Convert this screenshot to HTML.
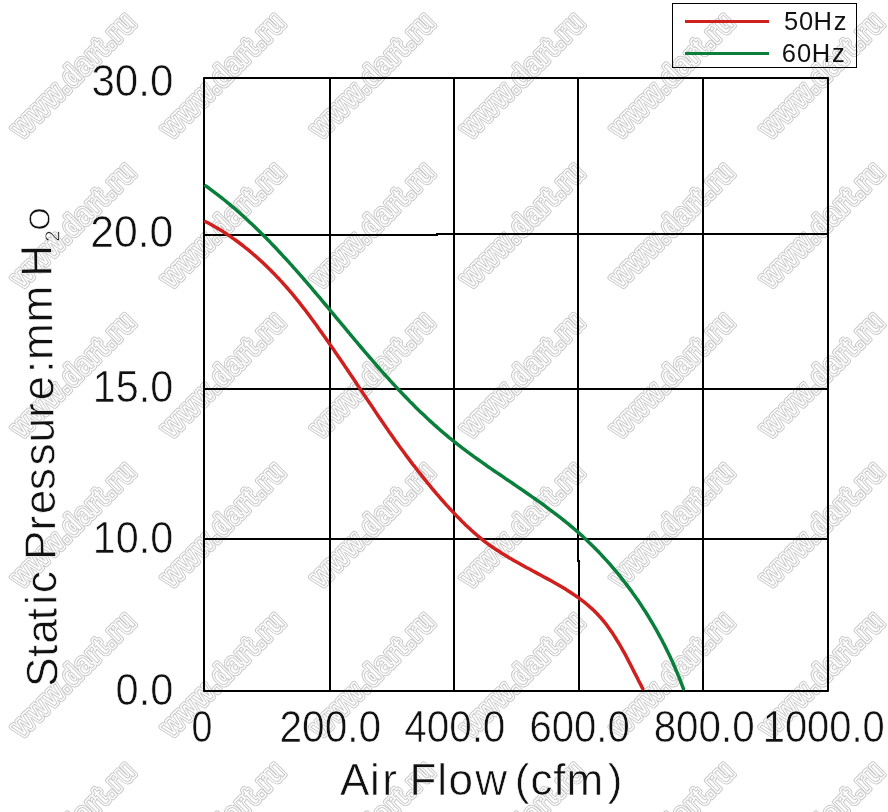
<!DOCTYPE html>
<html><head><meta charset="utf-8"><title>Static Pressure vs Air Flow</title><style>
html,body{margin:0;padding:0;background:#fff;}
body{width:888px;height:812px;overflow:hidden;}
svg{display:block;}
.wt{font-family:"Liberation Sans",Arial,sans-serif;font-weight:bold;font-size:28.5px;letter-spacing:2.2px;text-anchor:middle;dominant-baseline:central;}
.w1{fill:none;stroke:#c8c8c8;stroke-width:6px;stroke-linejoin:round;}
.w2{fill:#fff;stroke:#fff;stroke-width:4px;stroke-linejoin:round;}
.w3{fill:#fff;stroke:#cdcdcd;stroke-width:1.1px;}
.t{font-family:"Liberation Sans",Arial,sans-serif;font-size:44px;fill:#111;stroke:#fff;stroke-width:0.6px;}
.n{font-family:"Liberation Sans",Arial,sans-serif;font-size:43.5px;fill:#111;stroke:#fff;stroke-width:0.6px;}
.lg{font-family:"Liberation Sans",Arial,sans-serif;font-size:25.5px;fill:#111;}
</style></head><body>
<svg width="888" height="812" viewBox="0 0 888 812">

<rect width="888" height="812" fill="#fff"/>
<g>
<g transform="translate(72.5,74.8) rotate(-45) scale(0.87,1)"><text class="wt w1" x="1.1">www.dart.ru</text><text class="wt w2" x="1.1">www.dart.ru</text><text class="wt w3" x="1.1">www.dart.ru</text></g>
<g transform="translate(222.2,74.8) rotate(-45) scale(0.87,1)"><text class="wt w1" x="1.1">www.dart.ru</text><text class="wt w2" x="1.1">www.dart.ru</text><text class="wt w3" x="1.1">www.dart.ru</text></g>
<g transform="translate(371.9,74.8) rotate(-45) scale(0.87,1)"><text class="wt w1" x="1.1">www.dart.ru</text><text class="wt w2" x="1.1">www.dart.ru</text><text class="wt w3" x="1.1">www.dart.ru</text></g>
<g transform="translate(521.6,74.8) rotate(-45) scale(0.87,1)"><text class="wt w1" x="1.1">www.dart.ru</text><text class="wt w2" x="1.1">www.dart.ru</text><text class="wt w3" x="1.1">www.dart.ru</text></g>
<g transform="translate(671.3,74.8) rotate(-45) scale(0.87,1)"><text class="wt w1" x="1.1">www.dart.ru</text><text class="wt w2" x="1.1">www.dart.ru</text><text class="wt w3" x="1.1">www.dart.ru</text></g>
<g transform="translate(821.0,74.8) rotate(-45) scale(0.87,1)"><text class="wt w1" x="1.1">www.dart.ru</text><text class="wt w2" x="1.1">www.dart.ru</text><text class="wt w3" x="1.1">www.dart.ru</text></g>
<g transform="translate(72.5,224.6) rotate(-45) scale(0.87,1)"><text class="wt w1" x="1.1">www.dart.ru</text><text class="wt w2" x="1.1">www.dart.ru</text><text class="wt w3" x="1.1">www.dart.ru</text></g>
<g transform="translate(222.2,224.6) rotate(-45) scale(0.87,1)"><text class="wt w1" x="1.1">www.dart.ru</text><text class="wt w2" x="1.1">www.dart.ru</text><text class="wt w3" x="1.1">www.dart.ru</text></g>
<g transform="translate(371.9,224.6) rotate(-45) scale(0.87,1)"><text class="wt w1" x="1.1">www.dart.ru</text><text class="wt w2" x="1.1">www.dart.ru</text><text class="wt w3" x="1.1">www.dart.ru</text></g>
<g transform="translate(521.6,224.6) rotate(-45) scale(0.87,1)"><text class="wt w1" x="1.1">www.dart.ru</text><text class="wt w2" x="1.1">www.dart.ru</text><text class="wt w3" x="1.1">www.dart.ru</text></g>
<g transform="translate(671.3,224.6) rotate(-45) scale(0.87,1)"><text class="wt w1" x="1.1">www.dart.ru</text><text class="wt w2" x="1.1">www.dart.ru</text><text class="wt w3" x="1.1">www.dart.ru</text></g>
<g transform="translate(821.0,224.6) rotate(-45) scale(0.87,1)"><text class="wt w1" x="1.1">www.dart.ru</text><text class="wt w2" x="1.1">www.dart.ru</text><text class="wt w3" x="1.1">www.dart.ru</text></g>
<g transform="translate(72.5,374.4) rotate(-45) scale(0.87,1)"><text class="wt w1" x="1.1">www.dart.ru</text><text class="wt w2" x="1.1">www.dart.ru</text><text class="wt w3" x="1.1">www.dart.ru</text></g>
<g transform="translate(222.2,374.4) rotate(-45) scale(0.87,1)"><text class="wt w1" x="1.1">www.dart.ru</text><text class="wt w2" x="1.1">www.dart.ru</text><text class="wt w3" x="1.1">www.dart.ru</text></g>
<g transform="translate(371.9,374.4) rotate(-45) scale(0.87,1)"><text class="wt w1" x="1.1">www.dart.ru</text><text class="wt w2" x="1.1">www.dart.ru</text><text class="wt w3" x="1.1">www.dart.ru</text></g>
<g transform="translate(521.6,374.4) rotate(-45) scale(0.87,1)"><text class="wt w1" x="1.1">www.dart.ru</text><text class="wt w2" x="1.1">www.dart.ru</text><text class="wt w3" x="1.1">www.dart.ru</text></g>
<g transform="translate(671.3,374.4) rotate(-45) scale(0.87,1)"><text class="wt w1" x="1.1">www.dart.ru</text><text class="wt w2" x="1.1">www.dart.ru</text><text class="wt w3" x="1.1">www.dart.ru</text></g>
<g transform="translate(821.0,374.4) rotate(-45) scale(0.87,1)"><text class="wt w1" x="1.1">www.dart.ru</text><text class="wt w2" x="1.1">www.dart.ru</text><text class="wt w3" x="1.1">www.dart.ru</text></g>
<g transform="translate(72.5,524.2) rotate(-45) scale(0.87,1)"><text class="wt w1" x="1.1">www.dart.ru</text><text class="wt w2" x="1.1">www.dart.ru</text><text class="wt w3" x="1.1">www.dart.ru</text></g>
<g transform="translate(222.2,524.2) rotate(-45) scale(0.87,1)"><text class="wt w1" x="1.1">www.dart.ru</text><text class="wt w2" x="1.1">www.dart.ru</text><text class="wt w3" x="1.1">www.dart.ru</text></g>
<g transform="translate(371.9,524.2) rotate(-45) scale(0.87,1)"><text class="wt w1" x="1.1">www.dart.ru</text><text class="wt w2" x="1.1">www.dart.ru</text><text class="wt w3" x="1.1">www.dart.ru</text></g>
<g transform="translate(521.6,524.2) rotate(-45) scale(0.87,1)"><text class="wt w1" x="1.1">www.dart.ru</text><text class="wt w2" x="1.1">www.dart.ru</text><text class="wt w3" x="1.1">www.dart.ru</text></g>
<g transform="translate(671.3,524.2) rotate(-45) scale(0.87,1)"><text class="wt w1" x="1.1">www.dart.ru</text><text class="wt w2" x="1.1">www.dart.ru</text><text class="wt w3" x="1.1">www.dart.ru</text></g>
<g transform="translate(821.0,524.2) rotate(-45) scale(0.87,1)"><text class="wt w1" x="1.1">www.dart.ru</text><text class="wt w2" x="1.1">www.dart.ru</text><text class="wt w3" x="1.1">www.dart.ru</text></g>
<g transform="translate(72.5,674.0) rotate(-45) scale(0.87,1)"><text class="wt w1" x="1.1">www.dart.ru</text><text class="wt w2" x="1.1">www.dart.ru</text><text class="wt w3" x="1.1">www.dart.ru</text></g>
<g transform="translate(222.2,674.0) rotate(-45) scale(0.87,1)"><text class="wt w1" x="1.1">www.dart.ru</text><text class="wt w2" x="1.1">www.dart.ru</text><text class="wt w3" x="1.1">www.dart.ru</text></g>
<g transform="translate(371.9,674.0) rotate(-45) scale(0.87,1)"><text class="wt w1" x="1.1">www.dart.ru</text><text class="wt w2" x="1.1">www.dart.ru</text><text class="wt w3" x="1.1">www.dart.ru</text></g>
<g transform="translate(521.6,674.0) rotate(-45) scale(0.87,1)"><text class="wt w1" x="1.1">www.dart.ru</text><text class="wt w2" x="1.1">www.dart.ru</text><text class="wt w3" x="1.1">www.dart.ru</text></g>
<g transform="translate(671.3,674.0) rotate(-45) scale(0.87,1)"><text class="wt w1" x="1.1">www.dart.ru</text><text class="wt w2" x="1.1">www.dart.ru</text><text class="wt w3" x="1.1">www.dart.ru</text></g>
<g transform="translate(821.0,674.0) rotate(-45) scale(0.87,1)"><text class="wt w1" x="1.1">www.dart.ru</text><text class="wt w2" x="1.1">www.dart.ru</text><text class="wt w3" x="1.1">www.dart.ru</text></g>
<g transform="translate(72.5,823.8) rotate(-45) scale(0.87,1)"><text class="wt w1" x="1.1">www.dart.ru</text><text class="wt w2" x="1.1">www.dart.ru</text><text class="wt w3" x="1.1">www.dart.ru</text></g>
<g transform="translate(222.2,823.8) rotate(-45) scale(0.87,1)"><text class="wt w1" x="1.1">www.dart.ru</text><text class="wt w2" x="1.1">www.dart.ru</text><text class="wt w3" x="1.1">www.dart.ru</text></g>
<g transform="translate(371.9,823.8) rotate(-45) scale(0.87,1)"><text class="wt w1" x="1.1">www.dart.ru</text><text class="wt w2" x="1.1">www.dart.ru</text><text class="wt w3" x="1.1">www.dart.ru</text></g>
<g transform="translate(521.6,823.8) rotate(-45) scale(0.87,1)"><text class="wt w1" x="1.1">www.dart.ru</text><text class="wt w2" x="1.1">www.dart.ru</text><text class="wt w3" x="1.1">www.dart.ru</text></g>
<g transform="translate(671.3,823.8) rotate(-45) scale(0.87,1)"><text class="wt w1" x="1.1">www.dart.ru</text><text class="wt w2" x="1.1">www.dart.ru</text><text class="wt w3" x="1.1">www.dart.ru</text></g>
<g transform="translate(821.0,823.8) rotate(-45) scale(0.87,1)"><text class="wt w1" x="1.1">www.dart.ru</text><text class="wt w2" x="1.1">www.dart.ru</text><text class="wt w3" x="1.1">www.dart.ru</text></g>
</g>
<g stroke="#000" stroke-width="2" fill="none" stroke-linejoin="round">
<path d="M204,78 H828 V691 H204 Z"/>
<path d="M204,235 H437 V234 H828" stroke-linejoin="miter"/>
<line x1="204" y1="389" x2="828" y2="389"/>
<line x1="204" y1="539" x2="828" y2="539"/>
<line x1="330" y1="78" x2="330" y2="691"/>
<line x1="454" y1="78" x2="454" y2="691"/>
<path d="M578,78 V561 H579 V691" stroke-linejoin="miter"/>
<line x1="703" y1="78" x2="703" y2="691"/>
</g>
<path d="M205.6,221.7 207.8,222.8 210.0,224.0 212.2,225.2 214.4,226.5 216.6,227.7 218.7,229.0 220.9,230.3 223.0,231.6 225.1,233.0 227.2,234.4 229.2,235.7 231.3,237.2 233.3,238.6 235.4,240.0 237.4,241.5 239.4,243.0 241.4,244.5 243.4,246.0 245.3,247.6 247.3,249.2 249.2,250.7 251.1,252.3 253.0,254.0 254.9,255.6 256.8,257.2 258.7,258.9 260.5,260.6 262.4,262.3 264.2,264.0 266.0,265.7 267.8,267.5 269.6,269.2 271.4,271.0 273.1,272.8 274.9,274.6 276.6,276.4 278.4,278.2 280.1,280.1 281.8,281.9 283.4,283.8 285.1,285.6 286.8,287.5 288.4,289.4 290.1,291.3 291.7,293.2 293.3,295.1 294.9,297.1 296.4,299.0 298.0,300.9 299.6,302.9 301.1,304.9 302.6,306.8 304.2,308.8 305.7,310.8 307.2,312.8 308.7,314.8 310.2,316.8 311.6,318.8 313.1,320.8 314.6,322.8 316.1,324.8 317.5,326.8 319.0,328.9 320.4,330.9 321.9,332.9 323.3,335.0 324.8,337.0 326.2,339.1 327.7,341.1 329.1,343.2 330.5,345.2 331.9,347.3 333.4,349.3 334.8,351.4 336.2,353.4 337.6,355.5 339.0,357.6 340.4,359.6 341.9,361.7 343.3,363.8 344.7,365.9 346.1,367.9 347.5,370.0 348.9,372.1 350.3,374.2 351.7,376.2 353.1,378.3 354.5,380.4 355.9,382.5 357.3,384.6 358.6,386.6 360.0,388.7 361.4,390.8 362.8,392.9 364.2,395.0 365.6,397.0 367.0,399.1 368.4,401.2 369.8,403.3 371.2,405.3 372.6,407.4 374.0,409.5 375.4,411.6 376.7,413.6 378.1,415.7 379.5,417.8 380.9,419.8 382.4,421.9 383.8,424.0 385.2,426.0 386.6,428.1 388.0,430.1 389.4,432.2 390.9,434.2 392.3,436.3 393.7,438.3 395.2,440.4 396.6,442.4 398.1,444.4 399.5,446.5 401.0,448.5 402.5,450.5 404.0,452.5 405.5,454.6 407.0,456.6 408.5,458.6 410.0,460.6 411.5,462.6 413.0,464.6 414.6,466.5 416.1,468.5 417.6,470.5 419.2,472.5 420.8,474.4 422.3,476.4 423.9,478.4 425.5,480.3 427.0,482.3 428.6,484.2 430.2,486.1 431.8,488.1 433.4,490.0 435.0,491.9 436.6,493.8 438.3,495.7 439.9,497.6 441.5,499.5 443.2,501.3 444.8,503.2 446.5,505.1 448.2,506.9 449.9,508.8 451.6,510.6 453.3,512.4 455.0,514.2 456.7,516.0 458.5,517.8 460.3,519.6 462.0,521.4 463.8,523.1 465.6,524.9 467.4,526.6 469.3,528.3 471.1,530.0 473.0,531.7 474.9,533.4 476.8,535.0 478.7,536.6 480.6,538.2 482.6,539.8 484.5,541.3 486.5,542.8 488.5,544.3 490.5,545.8 492.6,547.2 494.6,548.6 496.7,550.0 498.8,551.3 500.9,552.7 503.0,554.0 505.1,555.3 507.2,556.6 509.4,557.9 511.5,559.1 513.7,560.4 515.8,561.6 518.0,562.8 520.2,564.0 522.4,565.3 524.6,566.5 526.8,567.7 529.0,568.8 531.2,570.0 533.4,571.2 535.6,572.4 537.8,573.6 540.0,574.8 542.2,576.0 544.4,577.2 546.6,578.4 548.9,579.6 551.1,580.8 553.2,582.0 555.4,583.3 557.6,584.5 559.8,585.8 561.9,587.0 564.1,588.3 566.2,589.6 568.3,591.0 570.4,592.3 572.5,593.7 574.6,595.1 576.6,596.5 578.6,597.9 580.6,599.4 582.6,600.9 584.6,602.4 586.5,604.0 588.4,605.6 590.2,607.2 592.1,608.9 593.9,610.5 595.6,612.3 597.3,614.0 599.0,615.9 600.7,617.7 602.3,619.6 603.9,621.5 605.4,623.4 607.0,625.4 608.4,627.4 609.9,629.5 611.3,631.5 612.8,633.6 614.1,635.7 615.5,637.8 616.8,640.0 618.2,642.2 619.5,644.3 620.7,646.5 622.0,648.8 623.2,651.0 624.5,653.2 625.7,655.4 626.9,657.7 628.0,659.9 629.2,662.2 630.4,664.4 631.5,666.7 632.7,668.9 633.8,671.2 634.9,673.4 636.1,675.6 637.2,677.8 638.3,680.1 639.4,682.2 640.6,684.4 641.7,686.6 642.8,688.7" fill="none" stroke="#cf201e" stroke-width="3.5" stroke-linejoin="round" stroke-linecap="round"/>
<path d="M205.7,185.9 207.7,187.3 209.8,188.8 211.8,190.3 213.8,191.8 215.8,193.3 217.8,194.8 219.8,196.4 221.7,197.9 223.7,199.5 225.6,201.0 227.5,202.6 229.5,204.2 231.4,205.8 233.3,207.4 235.2,209.0 237.1,210.7 238.9,212.3 240.8,214.0 242.7,215.6 244.5,217.3 246.4,219.0 248.2,220.7 250.0,222.4 251.8,224.1 253.6,225.8 255.4,227.5 257.2,229.3 259.0,231.0 260.8,232.8 262.6,234.5 264.3,236.3 266.1,238.0 267.8,239.8 269.6,241.6 271.3,243.4 273.1,245.2 274.8,247.0 276.5,248.8 278.2,250.7 279.9,252.5 281.6,254.3 283.3,256.2 285.0,258.0 286.7,259.8 288.4,261.7 290.1,263.6 291.8,265.4 293.4,267.3 295.1,269.2 296.8,271.1 298.4,272.9 300.1,274.8 301.7,276.7 303.4,278.6 305.0,280.5 306.7,282.4 308.3,284.3 309.9,286.2 311.6,288.1 313.2,290.1 314.8,292.0 316.4,293.9 318.1,295.8 319.7,297.7 321.3,299.7 322.9,301.6 324.5,303.5 326.2,305.5 327.8,307.4 329.4,309.3 331.0,311.3 332.6,313.2 334.2,315.1 335.8,317.1 337.4,319.0 339.0,320.9 340.7,322.9 342.3,324.8 343.9,326.7 345.5,328.7 347.1,330.6 348.7,332.5 350.3,334.5 351.9,336.4 353.6,338.3 355.2,340.3 356.8,342.2 358.4,344.1 360.0,346.0 361.7,348.0 363.3,349.9 364.9,351.8 366.5,353.7 368.2,355.6 369.8,357.5 371.5,359.4 373.1,361.3 374.7,363.2 376.4,365.1 378.0,367.0 379.7,368.9 381.4,370.8 383.0,372.6 384.7,374.5 386.4,376.4 388.1,378.2 389.7,380.1 391.4,381.9 393.1,383.8 394.8,385.6 396.5,387.4 398.2,389.3 399.9,391.1 401.7,392.9 403.4,394.7 405.1,396.5 406.8,398.3 408.6,400.1 410.3,401.9 412.1,403.6 413.9,405.4 415.6,407.2 417.4,408.9 419.2,410.7 421.0,412.4 422.8,414.1 424.6,415.8 426.4,417.5 428.2,419.2 430.0,420.9 431.9,422.6 433.7,424.3 435.6,425.9 437.5,427.6 439.3,429.2 441.2,430.9 443.1,432.5 445.0,434.1 446.9,435.7 448.8,437.3 450.8,438.9 452.7,440.4 454.6,442.0 456.6,443.5 458.6,445.1 460.6,446.6 462.5,448.1 464.5,449.6 466.5,451.1 468.5,452.6 470.6,454.1 472.6,455.6 474.6,457.1 476.6,458.5 478.7,460.0 480.7,461.4 482.8,462.9 484.8,464.3 486.9,465.8 488.9,467.2 491.0,468.6 493.1,470.1 495.1,471.5 497.2,472.9 499.3,474.3 501.4,475.7 503.5,477.2 505.5,478.6 507.6,480.0 509.7,481.4 511.8,482.8 513.9,484.2 515.9,485.6 518.0,487.1 520.1,488.5 522.2,489.9 524.2,491.3 526.3,492.8 528.4,494.2 530.4,495.6 532.5,497.1 534.6,498.5 536.6,500.0 538.6,501.4 540.7,502.9 542.7,504.3 544.8,505.8 546.8,507.3 548.8,508.8 550.8,510.3 552.8,511.8 554.8,513.3 556.8,514.8 558.8,516.4 560.8,517.9 562.7,519.5 564.7,521.0 566.6,522.6 568.6,524.2 570.5,525.8 572.4,527.4 574.3,529.0 576.2,530.6 578.1,532.3 579.9,533.9 581.8,535.6 583.6,537.3 585.5,539.0 587.3,540.7 589.1,542.5 590.9,544.2 592.7,546.0 594.5,547.7 596.2,549.5 598.0,551.3 599.7,553.1 601.4,554.9 603.1,556.8 604.8,558.6 606.5,560.4 608.2,562.3 609.9,564.2 611.5,566.1 613.1,568.0 614.8,569.9 616.4,571.8 618.0,573.7 619.5,575.7 621.1,577.6 622.7,579.6 624.2,581.6 625.8,583.6 627.3,585.6 628.8,587.6 630.3,589.6 631.8,591.6 633.2,593.7 634.7,595.7 636.1,597.8 637.6,599.8 639.0,601.9 640.4,604.0 641.8,606.1 643.1,608.2 644.5,610.3 645.9,612.4 647.2,614.5 648.5,616.7 649.8,618.8 651.1,621.0 652.4,623.2 653.7,625.3 654.9,627.5 656.2,629.7 657.4,631.9 658.6,634.1 659.8,636.3 661.0,638.5 662.2,640.7 663.3,643.0 664.5,645.2 665.6,647.4 666.7,649.7 667.8,652.0 668.9,654.2 670.0,656.5 671.0,658.8 672.1,661.1 673.1,663.3 674.1,665.6 675.1,667.9 676.1,670.3 677.1,672.6 678.0,674.9 679.0,677.2 679.9,679.5 680.8,681.9 681.7,684.2 682.6,686.6 683.5,688.9" fill="none" stroke="#0a7f3c" stroke-width="3.5" stroke-linejoin="round" stroke-linecap="round"/>
<text class="n" x="91.40" y="96.0" textLength="81.95" lengthAdjust="spacingAndGlyphs">30.0</text>
<text class="n" x="90.25" y="246.8" textLength="83.12" lengthAdjust="spacingAndGlyphs">20.0</text>
<text class="n" x="92.75" y="402.0" textLength="80.57" lengthAdjust="spacingAndGlyphs">15.0</text>
<text class="n" x="92.75" y="553.2" textLength="80.57" lengthAdjust="spacingAndGlyphs">10.0</text>
<text class="n" x="115.58" y="705.1" textLength="57.75" lengthAdjust="spacingAndGlyphs">0.0</text>
<text class="n" x="191.53" y="742.3" textLength="20.94" lengthAdjust="spacingAndGlyphs">0</text>
<text class="n" x="279.46" y="742.3" textLength="101.63" lengthAdjust="spacingAndGlyphs">200.0</text>
<text class="n" x="404.17" y="742.3" textLength="101.21" lengthAdjust="spacingAndGlyphs">400.0</text>
<text class="n" x="529.47" y="742.3" textLength="100.20" lengthAdjust="spacingAndGlyphs">600.0</text>
<text class="n" x="653.65" y="742.3" textLength="101.03" lengthAdjust="spacingAndGlyphs">800.0</text>
<text class="n" x="762.76" y="742.3" textLength="122.00" lengthAdjust="spacingAndGlyphs">1000.0</text>
<text class="t" x="340.01 369.96 382.18 396.83 409.49 437.14 448.55 475.36 507.14 514.77 530.43 553.28 566.58 607.74" y="795">Air Flow (cfm)</text>
<text class="t" transform="translate(57.6,686.0) rotate(-90.83)"><tspan x="-0.80 29.33 42.53 66.13 81.46 92.93 114.93 126.39 155.88 172.13 195.98 220.78 243.84 268.58 285.73 313.18 326.28 363.78 400.43 409.49" y="0">Static Pressure:mm H</tspan><tspan x="444.17" y="8.3" font-size="20.5">2</tspan><tspan x="455.81" y="-1.3" font-size="29.4">O</tspan></text>
<rect x="672.5" y="3.5" width="184" height="64" fill="none" stroke="#000" stroke-width="1"/>
<line x1="685" y1="21.5" x2="769" y2="21.5" stroke="#cf201e" stroke-width="3"/>
<line x1="685" y1="53.5" x2="769" y2="53.5" stroke="#0a7f3c" stroke-width="3"/>
<text class="lg" x="784.08 799.10 813.41 833.67" y="29.75">50Hz</text>
<text class="lg" x="781.81 797.10 811.81 832.07" y="61.75">60Hz</text>
</svg>
</body></html>
